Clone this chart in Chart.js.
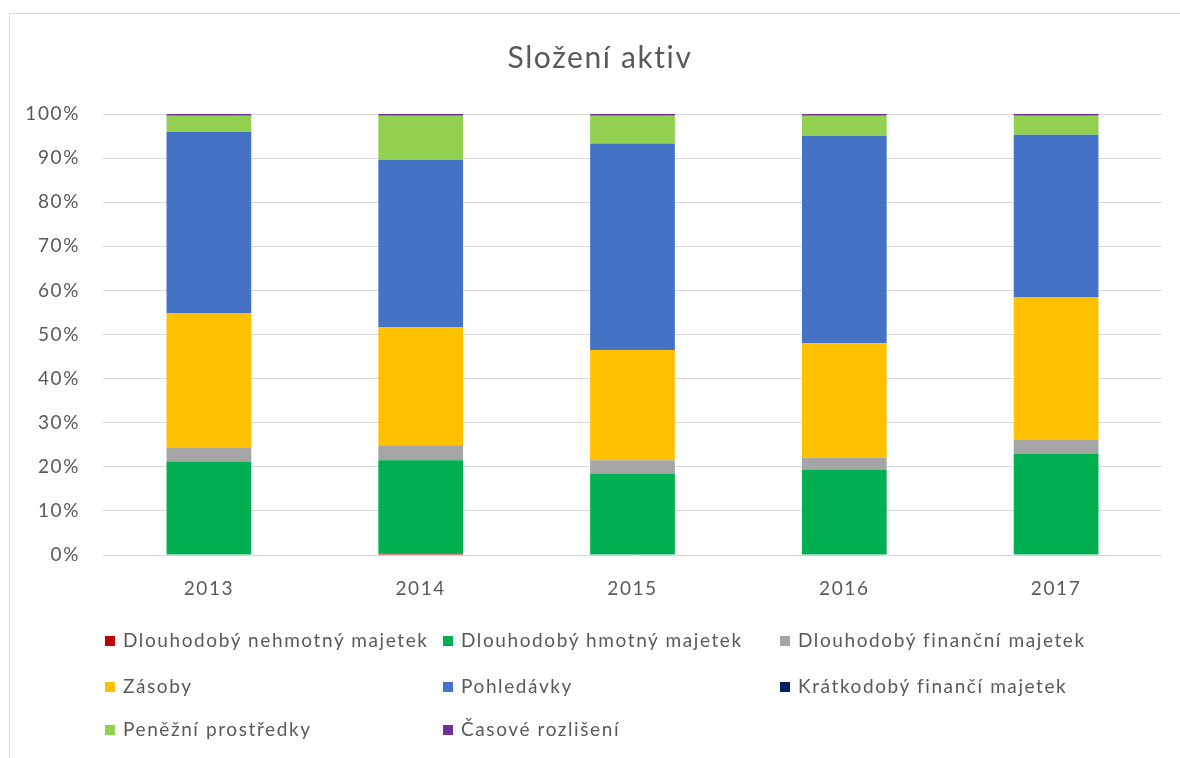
<!DOCTYPE html>
<html>
<head>
<meta charset="utf-8">
<title>Složení aktiv</title>
<script src="https://cdn.jsdelivr.net/npm/chart.js@4.4.1/dist/chart.umd.min.js"></script>
<style>
  body { margin: 0; background: #fff; font-family: Lato, sans-serif; }
  #wrap { position: relative; width: 1180px; height: 758px; }
  #legend .item { position: absolute; font-size: 19px; letter-spacing: 1.6px; color: #595959; white-space: nowrap; line-height: 22px; transform: translateY(-50%); }
  #legend .item span { display: inline-block; width: 10px; height: 10px; margin-right: 8px; vertical-align: 1px; }
</style>
</head>
<body>
<div id="wrap">
  <canvas id="chart" width="1180" height="758"></canvas>
  <div id="legend"></div>
</div>
<script>
// data (share of total assets, %)
var chartTitle = "Složení aktiv";
var years = ["2013", "2014", "2015", "2016", "2017"];
var seriesNames = [
  "Dlouhodobý nehmotný majetek",
  "Dlouhodobý hmotný majetek",
  "Dlouhodobý finanční majetek",
  "Zásoby",
  "Pohledávky",
  "Krátkodobý finančí majetek",
  "Peněžní prostředky",
  "Časové rozlišení"
];
var nehmotny   = [0,    0.3,  0,    0,    0];
var hmotny     = [21.2, 21.2, 18.5, 19.4, 22.9];
var financni   = [3.2,  3.4,  3.0,  2.7,  3.2];
var zasoby     = [30.5, 26.8, 25.0, 25.9, 32.3];
var pohledavky = [41.0, 37.9, 46.8, 47.0, 36.9];
var kratkodoby = [0,    0,    0,    0,    0];
var penezni    = [3.7,  10.0, 6.3,  4.6,  4.3];
var casove     = [0.4,  0.4,  0.4,  0.4,  0.4];
var yTicks = [0, 10, 20, 30, 40, 50, 60, 70, 80, 90, 100];

var colors = ["#C00000", "#00B050", "#A5A5A5", "#FFC000", "#4472C4", "#002060", "#92D050", "#7030A0"];
var values = [nehmotny, hmotny, financni, zasoby, pohledavky, kratkodoby, penezni, casove];

var datasets = seriesNames.map(function(name, i) {
  return {
    label: name,
    data: values[i],
    backgroundColor: colors[i],
    borderWidth: 0,
    categoryPercentage: 1,
    barPercentage: 0.4
  };
});

// white background, outer frame, slightly wider lettering, centred title
var frame = {
  id: "frame",
  beforeDraw: function(chart) {
    var c = chart.ctx;
    c.save();
    c.fillStyle = "#fff";
    c.fillRect(0, 0, chart.width, chart.height);
    c.strokeStyle = "#d9d9d9";
    c.lineWidth = 1;
    c.strokeRect(9.5, 13.5, chart.width, chart.height);
    c.restore();
    c.letterSpacing = "1.6px";
  },
  afterDraw: function(chart) {
    var c = chart.ctx;
    c.save();
    c.fillStyle = "#595959";
    c.font = "30px Lato";
    c.textAlign = "center";
    c.textBaseline = "middle";
    c.fillText(chartTitle, 600, 58);
    c.restore();
  }
};

var ctx = document.getElementById("chart").getContext("2d");
var chart = new Chart(ctx, {
  type: "bar",
  data: { labels: years, datasets: datasets },
  plugins: [frame],
  options: {
    responsive: false,
    animation: false,
    layout: { padding: { left: 0, right: 18, top: 114, bottom: 0 } },
    plugins: {
      legend: { display: false },
      tooltip: { enabled: false },
      title: { display: false }
    },
    scales: {
      x: {
        stacked: true,
        grid: { display: false, drawTicks: false },
        border: { display: false },
        ticks: { color: "#595959", font: { family: "Lato", size: 19 }, padding: 22 },
        afterFit: function(s) { s.height = 203; }
      },
      y: {
        stacked: true,
        min: 0,
        max: 100,
        afterBuildTicks: function(s) { s.ticks = yTicks.map(function(v) { return { value: v }; }); },
        grid: { color: "#d9d9d9", lineWidth: 1, drawTicks: false },
        border: { display: false },
        ticks: {
          color: "#595959",
          font: { family: "Lato", size: 19 },
          padding: 23,
          callback: function(v) { return v + "%"; }
        },
        afterFit: function(s) { s.width = 103; }
      }
    }
  }
});

// legend laid out in three columns like the original
var legendCols = [105, 443, 780];
var legendRows = [640, 686, 729];
var legend = document.getElementById("legend");
seriesNames.forEach(function(name, i) {
  var d = document.createElement("div");
  d.className = "item";
  d.style.left = legendCols[i % 3] + "px";
  d.style.top = legendRows[Math.floor(i / 3)] + "px";
  d.innerHTML = '<span style="background:' + colors[i] + '"></span>' + name;
  legend.appendChild(d);
});
</script>
</body>
</html>
